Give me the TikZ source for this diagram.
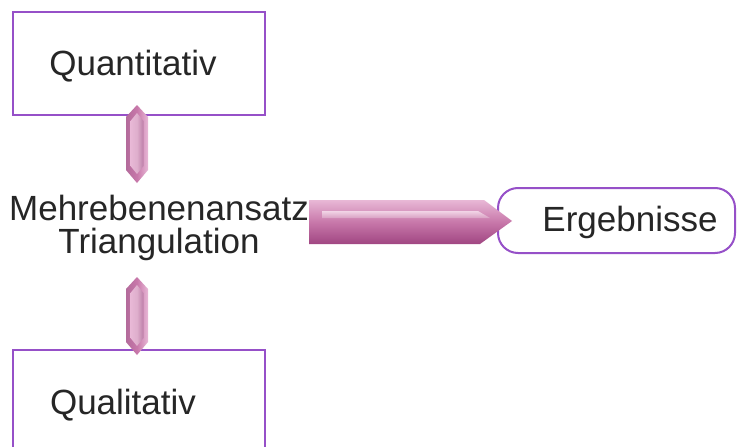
\documentclass[tikz,border=0pt]{standalone}
\usepackage{fontspec}
\setmainfont{Liberation Sans}
\begin{document}
\begin{tikzpicture}[x=1pt,y=-1pt,
  boxline/.style={draw=boxpurple,line width=2pt},
  lbl/.style={font=\fontsize{35}{33}\selectfont,text=black!85,inner sep=0pt},
]
\definecolor{boxpurple}{RGB}{150,80,200}
\definecolor{mauveD}{RGB}{160,70,130}
\definecolor{mauveL}{RGB}{232,184,214}
\definecolor{mauveM}{RGB}{200,120,170}
\useasboundingbox[fill=white] (0,0) rectangle (739,447);
% boxes
\draw[boxline] (13,456) -- (13,350) -- (265,350) -- (265,456);
\node[boxline,minimum width=252pt,minimum height=103pt,inner sep=0pt] (quant) at (139,63) {};
\node[lbl] (quantt) at (133,66) {Quantitativ};
\node[lbl] (qualt) at (123,405) {Qualitativ};
\coordinate (qual) at (139,350);
\node[boxline,rounded corners=20pt,minimum width=237pt,minimum height=65pt,inner sep=0pt] (erg) at (616.5,220.5) {};
\node[lbl] (ergt) at (630,222) {Ergebnisse};
\node[lbl,align=center] (mid) at (159,228) {Mehrebenenansatz\\Triangulation};
% double arrows
\newcommand{\dblarrow}[3]{%
  \shade[left color=mauveD!80,right color=mauveL,middle color=mauveM]
    (#1,#2) -- (#1+11,#2+12) -- (#1+11,#3-13) -- (#1,#3) -- (#1-11,#3-13) -- (#1-11,#2+12) -- cycle;
  \shade[left color=mauveL,right color=mauveD!70,middle color=mauveM!60]
    (#1,#2+8) -- (#1+6.5,#2+16) -- (#1+6.5,#3-17) -- (#1,#3-9) -- (#1-6.5,#3-17) -- (#1-6.5,#2+16) -- cycle;
}
\dblarrow{137}{105}{183}
\dblarrow{137}{277}{355}
% big arrow
\shade[top color=mauveL,bottom color=mauveD,middle color=mauveM]
  (309,200) -- (484,200) -- (512,221) -- (480,244) -- (309,244) -- cycle;
\shade[top color=mauveL!60!white,bottom color=mauveM!70!white]
  (322,211) -- (478,211) -- (490,218) -- (322,218) -- cycle;
\end{tikzpicture}
\end{document}
